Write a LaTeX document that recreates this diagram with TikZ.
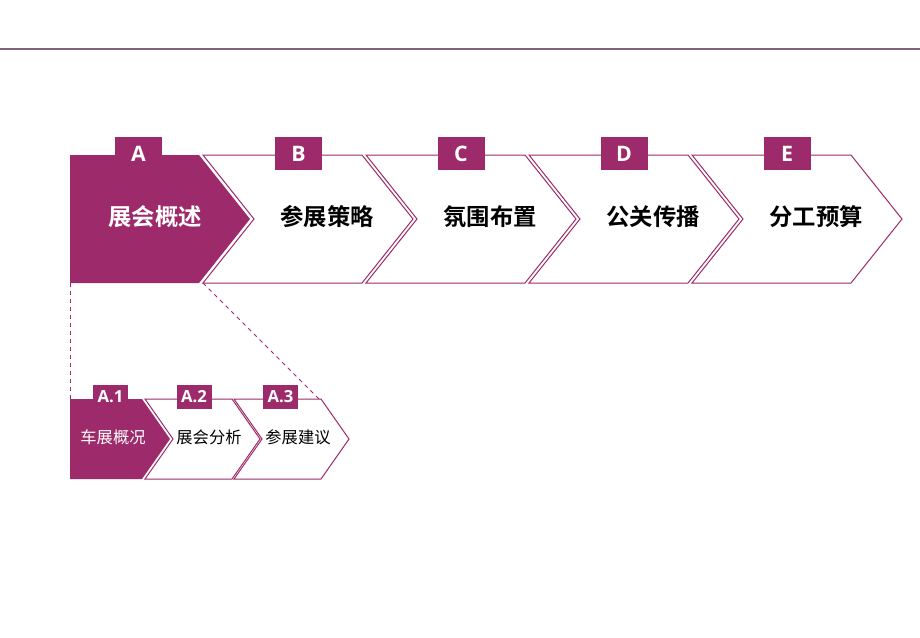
\documentclass[tikz,border=0pt]{standalone}
\usepackage{fontspec}
\setmainfont{Open Sans}
\newfontfamily\cjk{Noto Sans CJK SC}
\newfontfamily\cjkb{Noto Sans CJK SC Bold}
\definecolor{pur}{RGB}{157,43,107}
\definecolor{rulec}{RGB}{125,100,118}
\tikzset{
  chevfill/.style={fill=pur,draw=none},
  chevline/.style={draw=pur,line width=0.75pt,fill=white,line join=miter},
  maintab/.style={fill=pur,draw=none,minimum width=35.25pt,minimum height=24.75pt,inner sep=0pt,text=white,font=\fontsize{16}{16}\selectfont\bfseries},
  subtab/.style={fill=pur,draw=none,minimum width=26.25pt,minimum height=18pt,inner sep=0pt,text=white,font=\fontsize{12.5}{12.5}\selectfont\bfseries},
  maintext/.style={font=\cjkb\fontsize{17.5}{17.5}\selectfont,inner sep=0pt},
  subtext/.style={font=\cjk\fontsize{12.2}{12.2}\selectfont,inner sep=0pt},
  dashline/.style={draw=pur,dashed,line width=0.75pt}
}
\begin{document}
\begin{tikzpicture}[x=0.75pt,y=-0.75pt]
\useasboundingbox (0,0) rectangle (920,637);
\fill[white] (0,0) rectangle (920,637);
\draw[rulec,line width=0.9pt] (0,49) -- (920,49);
% main chevron A
\path[chevfill] (70,155) -- (199,155) -- (250,219) -- (199,283) -- (70,283) -- cycle;
\node[maintext,text=white] (ma) at (155,217) {展会概述};
% main chevrons B-E
\foreach \n/\i/\t in {203/b/参展策略,366/c/氛围布置,529/d/公关传播,692/e/分工预算}{
  \path[chevline] (\n,155) -- ({\n+159},155) -- ({\n+210},219) -- ({\n+159},283) -- (\n,283) -- ({\n+51},219) -- cycle;
  \node[maintext] (m\i) at ({\n+124},217) {\t};
}
% main tabs
\node[maintab] (ta) at (138.5,153.5) {A};
\node[maintab] (tb) at (298.5,153.5) {B};
\node[maintab] (tc) at (461,153.5) {C};
\node[maintab] (td) at (624,153.5) {D};
\node[maintab] (te) at (787,153.5) {E};
% sub chevrons
\path[chevfill] (70,399) -- (142,399) -- (170,439) -- (142,479) -- (70,479) -- cycle;
\node[subtext,text=white] (s1) at (113,437) {车展概况};
\foreach \m/\i/\t in {145/2/展会分析,234/3/参展建议}{
  \path[chevline] (\m,399) -- ({\m+87},399) -- ({\m+115},439) -- ({\m+87},479) -- (\m,479) -- ({\m+28},439) -- cycle;
  \node[subtext] (s\i) at ({\m+64},437) {\t};
}
\node[subtab] (u1) at (110.5,397) {A.1};
\node[subtab] (u2) at (194,397) {A.2};
\node[subtab] (u3) at (280.5,397) {A.3};
% dashed connectors
\coordinate (abl) at (70,283);
\coordinate (abr) at (203,283);
\coordinate (stl) at (70,399);
\coordinate (str) at (319,399);
\draw[dashline] (abl) -- (stl);
\draw[dashline] (abr) -- (str);
\end{tikzpicture}
\end{document}
